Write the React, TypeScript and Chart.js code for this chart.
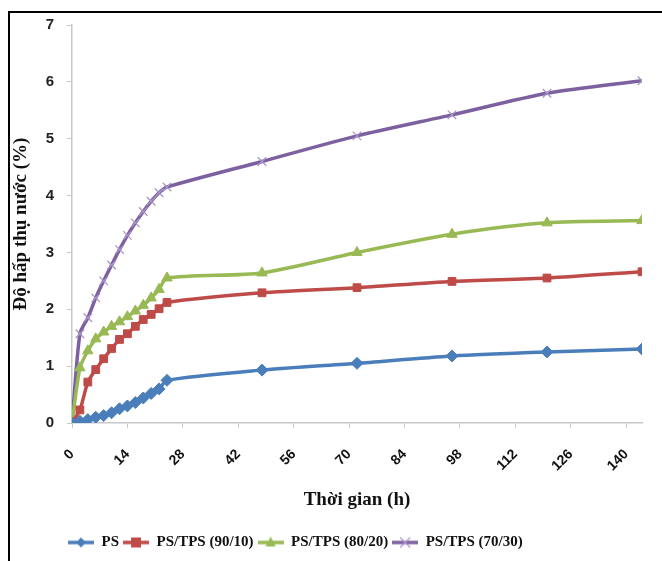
import React, { useEffect, useRef } from "react";
import { Chart, registerables } from "chart.js";

Chart.register(...registerables);

const hours = [0, 2, 4, 6, 8, 10, 12, 14, 16, 18, 20, 22, 24, 48, 72, 96, 120, 144];
const psValues = [0, 0.03, 0.06, 0.1, 0.13, 0.18, 0.25, 0.3, 0.36, 0.44, 0.52, 0.6, 0.75, 0.93, 1.05, 1.18, 1.25, 1.3];
const tps9010Values = [0, 0.23, 0.72, 0.94, 1.13, 1.31, 1.47, 1.57, 1.7, 1.82, 1.91, 2.01, 2.12, 2.29, 2.38, 2.49, 2.55, 2.66];
const tps8020Values = [0, 0.97, 1.27, 1.48, 1.6, 1.7, 1.78, 1.87, 1.97, 2.07, 2.2, 2.35, 2.55, 2.64, 3.0, 3.32, 3.52, 3.56];
const tps7030Values = [0, 1.57, 1.85, 2.2, 2.5, 2.78, 3.05, 3.3, 3.52, 3.72, 3.9, 4.05, 4.15, 4.6, 5.05, 5.42, 5.8, 6.02];

const seriesNames = ["PS", "PS/TPS (90/10)", "PS/TPS (80/20)", "PS/TPS (70/30)"];
const seriesColors = ["#4a7ebb", "#be4b48", "#98b954", "#7d60a0"];
const markerColors = ["#4a7ebb", "#be4b48", "#98b954", "#a994c8"];
const markerStyles = ["rectRot", "rect", "triangle", "crossRot"];

const yTitle = "Độ hấp thụ nước (%)";
const xTitle = "Thời gian (h)";

const ICON_W = 26;

function makeIcon(i: number): HTMLCanvasElement {
  const w = ICON_W, h = 14;
  const c = document.createElement("canvas");
  c.width = w; c.height = h;
  const ctx = c.getContext("2d")!;
  ctx.strokeStyle = seriesColors[i];
  ctx.lineWidth = 3.5;
  ctx.beginPath();
  ctx.moveTo(0, h / 2);
  ctx.lineTo(w, h / 2);
  ctx.stroke();
  const cx = w / 2, cy = h / 2;
  ctx.fillStyle = markerColors[i];
  ctx.strokeStyle = markerColors[i];
  const s = markerStyles[i];
  if (s === "rectRot") {
    ctx.beginPath();
    ctx.moveTo(cx, cy - 5); ctx.lineTo(cx + 5, cy); ctx.lineTo(cx, cy + 5); ctx.lineTo(cx - 5, cy);
    ctx.closePath(); ctx.fill();
  } else if (s === "rect") {
    ctx.fillRect(cx - 5, cy - 5, 10, 10);
  } else if (s === "triangle") {
    ctx.beginPath();
    ctx.moveTo(cx, cy - 6); ctx.lineTo(cx + 5, cy + 4); ctx.lineTo(cx - 5, cy + 4);
    ctx.closePath(); ctx.fill();
  } else {
    ctx.lineWidth = 1.3;
    ctx.beginPath();
    ctx.moveTo(cx - 5, cy - 5); ctx.lineTo(cx + 5, cy + 5);
    ctx.moveTo(cx + 5, cy - 5); ctx.lineTo(cx - 5, cy + 5);
    ctx.stroke();
  }
  return c;
}

const shiftLegend = {
  id: "shiftLegend",
  afterLayout(chart: any) {
    const lg = chart.legend;
    if (lg) {
      lg.left -= 8;
      lg.right -= 8;
    }
  },
};

export default function App() {
  const ref = useRef<HTMLCanvasElement | null>(null);

  useEffect(() => {
    if (!ref.current) return;
    const allValues = [psValues, tps9010Values, tps8020Values, tps7030Values];
    const icons = seriesNames.map((_, i) => makeIcon(i));
    const datasets = seriesNames.map((name, i) => ({
      label: name,
      data: hours.map((h, k) => ({ x: h, y: allValues[i][k] })),
      borderColor: seriesColors[i],
      backgroundColor: markerColors[i],
      borderWidth: 3.5,
      pointStyle: markerStyles[i] as any,
      pointRadius: markerStyles[i] === "rect" ? 5.5 : 6,
      pointBorderColor: markerColors[i],
      pointBackgroundColor: markerColors[i],
      pointBorderWidth: markerStyles[i] === "crossRot" ? 1.3 : 1,
      tension: 0.25,
    }));
    const chart = new Chart(ref.current, {
      type: "line",
      data: { datasets },
      plugins: [shiftLegend],
      options: {
        animation: false,
        responsive: false,
        maintainAspectRatio: false,
        layout: { padding: { top: 25, right: 20, bottom: 1, left: 0 } },
        plugins: {
          tooltip: { enabled: false },
          legend: {
            position: "bottom",
            align: "start",
            fullSize: false,
            labels: {
              usePointStyle: true,
              pointStyleWidth: ICON_W,
              padding: 4,
              color: "#111",
              font: { family: "'Liberation Serif', serif", size: 15, weight: "bold" },
              generateLabels: (ch: any) => {
                const base = Chart.defaults.plugins.legend.labels.generateLabels(ch);
                return base.map((it: any, i: number) => ({ ...it, pointStyle: icons[i] }));
              },
            },
          },
        },
        scales: {
          x: {
            type: "linear",
            min: 0,
            max: 144,
            afterFit: (s: any) => { s.height = 108; },
            grid: { display: true, drawOnChartArea: false, drawTicks: true, tickLength: 5, color: "#c8c8c8" },
            border: { color: "#c8c8c8", width: 1.5 },
            ticks: {
              stepSize: 14,
              includeBounds: false,
              minRotation: 45,
              maxRotation: 45,
              padding: 18,
              color: "#111",
              font: { family: "'Liberation Sans', sans-serif", size: 14, weight: "bold" },
            },
            title: {
              display: true,
              text: xTitle,
              color: "#111",
              padding: { top: 2, bottom: 20 },
              font: { family: "'Liberation Serif', serif", size: 19, weight: "bold" },
            },
          },
          y: {
            min: 0,
            max: 7,
            afterFit: (s: any) => { s.width = 72; },
            grid: { display: true, drawOnChartArea: false, drawTicks: true, tickLength: 5, color: "#c8c8c8" },
            border: { color: "#c8c8c8", width: 1.5 },
            ticks: {
              stepSize: 1,
              padding: 13,
              color: "#222",
              font: { family: "'Liberation Sans', sans-serif", size: 15, weight: "bold" },
            },
            title: {
              display: true,
              text: yTitle,
              color: "#111",
              padding: { top: 10, bottom: 0 },
              font: { family: "'Liberation Serif', serif", size: 19, weight: "bold" },
            },
          },
        },
      },
    } as any);
    return () => chart.destroy();
  }, []);

  return (
    <div style={{ position: "absolute", left: 0, top: 0, width: 662, height: 561, background: "#fff" }}>
      <canvas ref={ref} width={662} height={561} style={{ position: "absolute", left: 0, top: 0, width: 662, height: 561 }} />
      <div
        style={{
          position: "absolute",
          left: 8,
          top: 11,
          width: 654,
          height: 550,
          borderTop: "2px solid #000",
          borderLeft: "2px solid #000",
          boxSizing: "border-box",
          pointerEvents: "none",
        }}
      />
    </div>
  );
}
